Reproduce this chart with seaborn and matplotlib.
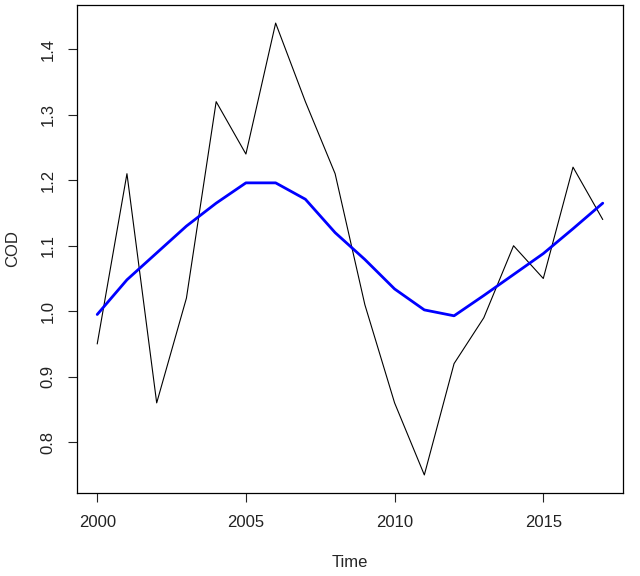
import numpy as np
import pandas as pd
import seaborn as sns
from matplotlib import pyplot as plt

# yearly COD series and its smoothed trend
years = list(range(2000, 2018))
cod = [0.95, 1.21, 0.86, 1.02, 1.32, 1.24, 1.44, 1.32, 1.21, 1.01,
       0.86, 0.75, 0.92, 0.99, 1.10, 1.05, 1.22, 1.14]
trend = [0.995, 1.048, 1.089, 1.13, 1.165, 1.196, 1.196, 1.171, 1.12, 1.079,
         1.034, 1.002, 0.993, 1.024, 1.056, 1.088, 1.126, 1.165]
x_ticks = [2000, 2005, 2010, 2015]
y_ticks = [0.8, 0.9, 1.0, 1.1, 1.2, 1.3, 1.4]

df = pd.DataFrame({"Time": years, "COD": cod, "trend": trend})

sns.set_style("ticks")
plt.rcParams['font.family'] = ['Liberation Sans', 'DejaVu Sans']

fig = plt.figure(figsize=(6.4, 5.76), dpi=100)
ax = fig.add_axes([0.1203, 0.1441, 0.8531, 0.8472])

sns.lineplot(data=df, x="Time", y="COD", ax=ax, color="black", linewidth=0.8)
sns.lineplot(data=df, x="Time", y="trend", ax=ax, color="#0000ff", linewidth=2)

ax.set_xlim(1999.32, 2017.68)
ax.set_ylim(0.7224, 1.4676)
ax.set_xticks(x_ticks)
ax.set_yticks(y_ticks)
ax.set_yticklabels([f"{v:.1f}" for v in y_ticks], rotation=90, va="center")
ax.tick_params(direction="out", length=6.5, width=0.8, labelsize=12, colors="#222222", pad=9)
for s in ax.spines.values():
    s.set_visible(True)
    s.set_linewidth(0.9)
    s.set_color("black")

ax.set_xlabel("Time", fontsize=12, labelpad=18)
ax.set_ylabel("COD", fontsize=12, labelpad=15)

fig.savefig("out.png", dpi=100)
